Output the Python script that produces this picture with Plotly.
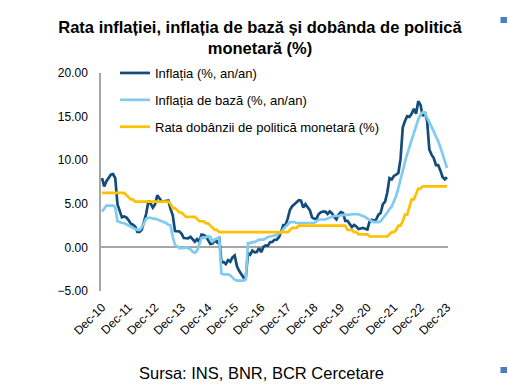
import plotly.graph_objects as go
import pandas as pd

months = [d.strftime("%b-%y") for d in pd.date_range("2010-12-01", "2023-12-01", freq="MS")]
tick_labels = ["Dec-10", "Dec-11", "Dec-12", "Dec-13", "Dec-14", "Dec-15", "Dec-16",
               "Dec-17", "Dec-18", "Dec-19", "Dec-20", "Dec-21", "Dec-22", "Dec-23"]

inflatia = [7.96,
    6.99, 7.60, 8.01, 8.34, 8.41, 7.93, 4.94, 4.25, 3.45, 3.55, 3.44, 3.14,
    2.72, 2.60, 2.40, 1.79, 1.79, 2.04, 3.05, 3.88, 5.33, 5.03, 4.56, 4.95,
    5.97, 5.65, 5.25, 5.28, 5.32, 5.37, 4.41, 3.67, 1.88, 1.88, 1.83, 1.55,
    1.07, 1.05, 1.04, 1.22, 0.94, 0.66, 0.95, 0.62, 1.47, 1.43, 1.26, 0.83,
    0.40, 0.44, 0.79, 0.59, 1.20, -1.74, -1.68, -1.92, -1.46, -1.64, -1.15, -0.93,
    -2.13, -2.68, -3.01, -3.46, -3.52, -0.66, -0.84, -0.36, -0.56, -0.53, -0.08, -0.54,
    0.05, 0.22, 0.18, 0.60, 0.63, 0.88, 0.88, 1.17, 1.77, 2.57, 2.59, 3.32,
    4.32, 4.72, 4.95, 5.22, 5.41, 5.36, 4.56, 4.96, 4.66, 4.26, 3.43, 3.27,
    3.32, 3.83, 4.03, 4.11, 4.10, 3.84, 4.12, 3.90, 3.49, 3.22, 3.78, 4.04,
    3.95, 3.05, 3.05, 2.69, 2.33, 2.58, 2.40, 2.10, 2.21, 2.24, 2.15, 2.06,
    2.96, 3.16, 3.05, 3.21, 3.75, 3.94, 4.95, 5.25, 6.29, 7.94, 7.80, 8.19,
    8.35, 8.53, 10.15, 13.76, 14.49, 15.05, 14.96, 15.32, 15.88, 15.32, 16.76, 16.37,
    15.07, 15.52, 14.53, 11.23, 10.64, 10.25, 9.43, 9.44, 8.83, 8.07, 7.80, 8.05]

inflatia_baza = [
    4.1, 4.5, 4.8, 4.8, 4.8, 4.8, 4.6, 3.0, 2.9, 2.8, 2.8, 2.6,
    2.5, 2.4, 2.2, 2.1, 2.0, 2.0, 2.3, 2.9, 3.3, 3.4, 3.4, 3.3,
    3.3, 3.2, 3.1, 3.0, 2.9, 2.8, 2.6, 2.5, 1.2, 0.3, 0.1, -0.1,
    -0.1, -0.1, 0.0, -0.1, -0.2, -0.5, -0.6, -0.4, 0.3, 1.1, 1.1, 1.2,
    1.25, 1.2, 0.7, 0.9, 1.0, 1.1, -3.0, -3.1, -3.1, -3.1, -3.2, -3.5,
    -3.7, -3.8, -3.8, -3.8, -3.8, -3.7, 0.5, 0.5, 0.6, 0.6, 0.8, 0.9,
    0.9, 0.9, 1.0, 1.2, 1.25, 1.3, 1.3, 1.4, 1.6, 1.7, 2.1, 2.4,
    2.6, 2.9, 2.9, 2.9, 2.8, 2.8, 2.8, 2.8, 2.8, 2.8, 2.8, 2.8,
    2.8, 3.0, 3.2, 3.2, 3.2, 3.2, 3.3, 3.4, 3.5, 3.6, 3.6, 3.6,
    3.7, 3.7, 3.7, 3.75, 3.75, 3.8, 3.8, 3.8, 3.8, 3.7, 3.6, 3.5,
    3.3, 3.1, 3.0, 2.9, 2.9, 2.9, 3.0, 3.3, 3.6, 4.0, 4.4, 4.7,
    5.3, 5.9, 6.8, 7.9, 8.9, 9.8, 10.7, 11.5, 12.3, 13.1, 13.9, 14.7,
    15.2, 15.5, 15.4, 14.9, 14.3, 13.9, 13.3, 12.7, 12.2, 11.5, 10.7, 9.9,
    9.1]

rata_dobanzii = [6.25,
    6.25, 6.25, 6.25, 6.25, 6.25, 6.25, 6.25, 6.25, 6.25, 6.25, 6.00, 5.75,
    5.50, 5.50, 5.25, 5.25, 5.25, 5.25, 5.25, 5.25, 5.25, 5.25, 5.25, 5.25,
    5.25, 5.25, 5.25, 5.25, 5.25, 5.25, 5.00, 4.50, 4.50, 4.25, 4.00, 4.00,
    3.75, 3.50, 3.50, 3.50, 3.50, 3.50, 3.25, 3.00, 3.00, 3.00, 2.75, 2.75,
    2.50, 2.25, 2.00, 2.00, 1.75, 1.75, 1.75, 1.75, 1.75, 1.75, 1.75, 1.75,
    1.75, 1.75, 1.75, 1.75, 1.75, 1.75, 1.75, 1.75, 1.75, 1.75, 1.75, 1.75,
    1.75, 1.75, 1.75, 1.75, 1.75, 1.75, 1.75, 1.75, 1.75, 1.75, 1.75, 1.75,
    2.00, 2.25, 2.25, 2.25, 2.50, 2.50, 2.50, 2.50, 2.50, 2.50, 2.50, 2.50,
    2.50, 2.50, 2.50, 2.50, 2.50, 2.50, 2.50, 2.50, 2.50, 2.50, 2.50, 2.50,
    2.50, 2.50, 2.00, 2.00, 2.00, 1.75, 1.75, 1.50, 1.50, 1.50, 1.50, 1.50,
    1.25, 1.25, 1.25, 1.25, 1.25, 1.25, 1.25, 1.25, 1.25, 1.50, 1.75, 1.75,
    2.00, 2.50, 2.50, 3.00, 3.75, 3.75, 4.75, 5.50, 5.50, 6.25, 6.75, 6.75,
    7.00, 7.00, 7.00, 7.00, 7.00, 7.00, 7.00, 7.00, 7.00, 7.00, 7.00, 7.00]

names = ["Inflația (%, an/an)", "Inflația de bază (%, an/an)", "Rata dobânzii de politică monetară (%)"]
colors = ["#134B7B", "#80CBF0", "#FFC000"]
series = [inflatia, inflatia_baza, rata_dobanzii]

FONT = "Arial, Liberation Sans, sans-serif"

fig = go.Figure()
for i, (nm, col, vals) in enumerate(zip(names, colors, series)):
    fig.add_trace(go.Scatter(x=months[:len(vals)], y=vals, mode="lines", name=nm,
                             legendgroup=f"g{i}",
                             line=dict(color=col, width=2.7)))

W, H = 509, 388
L, R, T, B = 101, 61, 73, 97
pw, ph = W - L - R, H - T - B

def px2paper(xp, yp):
    return (xp - L) / pw, (H - B - yp) / ph

fig.update_layout(
    width=W, height=H,
    margin=dict(l=L, r=R, t=T, b=B, autoexpand=False),
    paper_bgcolor="white", plot_bgcolor="white",
    font=dict(family=FONT, size=12, color="black"),
    title=dict(text="<b>Rata inflației, inflația de bază și dobânda de politică<br>monetară (%)</b>",
               x=260 / W, xanchor="center", y=1 - 33 / H, yanchor="top",
               font=dict(size=16.5, family=FONT, color="black")),
    showlegend=True,
    legend=dict(x=px2paper(115, 0)[0], y=px2paper(0, 58)[1], xanchor="left", yanchor="top",
                font=dict(size=13, family=FONT, color="black"),
                bgcolor="rgba(0,0,0,0)", traceorder="grouped", tracegroupgap=7),
    xaxis=dict(type="category", range=[-0.45, len(months) - 1 + 0.45],
               tickmode="array", tickvals=tick_labels, ticktext=tick_labels,
               tickangle=-45, showgrid=False, showline=False, zeroline=False,
               ticks="", ticklabelstandoff=6,
               tickfont=dict(size=12, family=FONT, color="black")),
    yaxis=dict(range=[-5, 20], tickvals=[-5, 0, 5, 10, 15, 20], tickformat=".2f",
               showgrid=False, showline=True, linecolor="#A6A6A6", linewidth=1.5,
               zeroline=True, zerolinecolor="#A6A6A6", zerolinewidth=1.5,
               ticks="", ticklabelstandoff=9,
               tickfont=dict(size=12, family=FONT, color="black")),
)

sx, sy = px2paper(261, 373)
fig.add_annotation(text="Sursa: INS, BNR, BCR Cercetare", xref="paper", yref="paper",
                   x=sx, y=sy, xanchor="center", yanchor="middle", showarrow=False,
                   font=dict(size=16.5, family=FONT, color="black"))

for cy in (20, 370):
    x0, y0 = px2paper(500.5, cy + 3)
    x1, y1 = px2paper(507, cy - 3)
    fig.add_shape(type="rect", xref="paper", yref="paper", x0=x0, y0=y0, x1=x1, y1=y1,
                  fillcolor="#4A7EC0", line=dict(width=0))

fig.write_html("out.html", config={"displayModeBar": False},
               post_script="document.body.style.margin='0';")
